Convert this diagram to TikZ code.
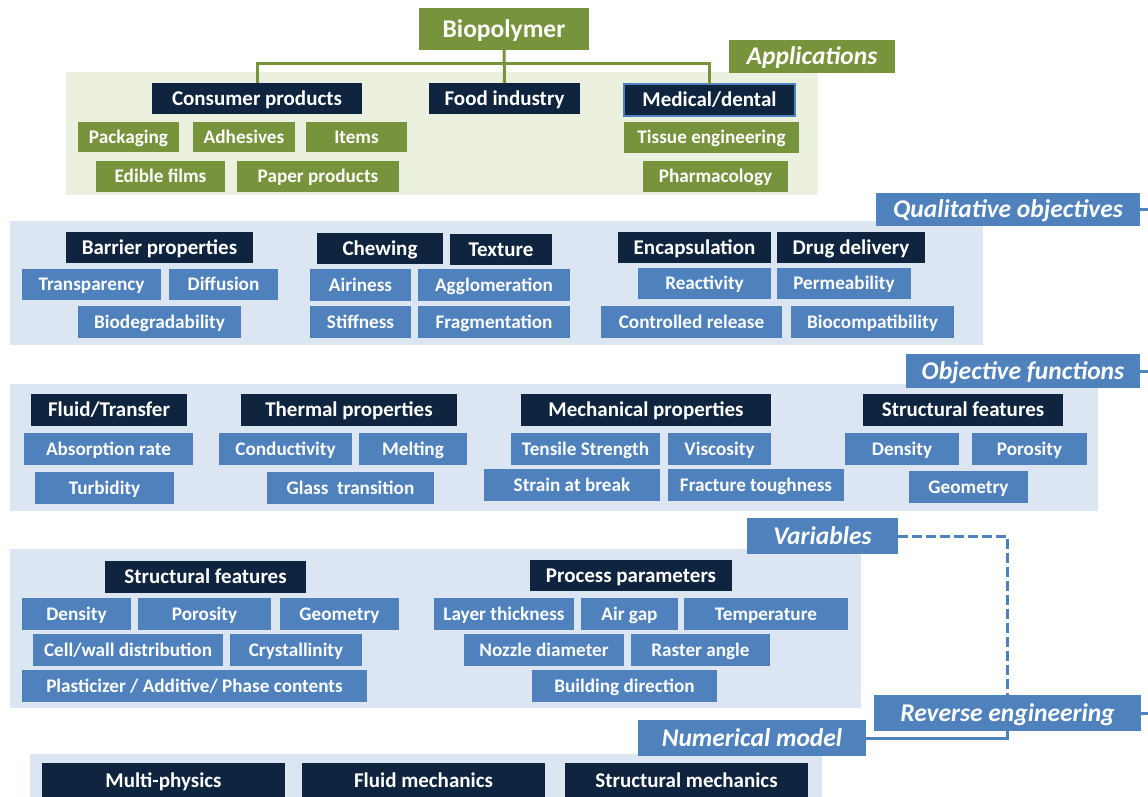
\documentclass[tikz,border=0pt]{standalone}
\usepackage{fontspec}
\setmainfont{Carlito}
\usepackage{tikz}
\usepackage{xcolor}
\usetikzlibrary{arrows.meta,calc}
\definecolor{navy}{HTML}{0F243E}
\definecolor{itemblue}{HTML}{4F81BD}
\definecolor{olive}{HTML}{77933C}
\definecolor{bgblue}{HTML}{DCE6F2}
\definecolor{bggreen}{HTML}{EBF1DE}
\tikzset{
    anybox/.style={rectangle,inner sep=0pt,outer sep=0pt,text=white,minimum height=31pt,align=center},
    hdrbox/.style={anybox,fill=navy,font=\fontsize{21}{24}\selectfont\bfseries,text height=14pt,text depth=0.5pt},
    itembox/.style={anybox,fill=itemblue,font=\fontsize{19.2}{22}\selectfont\bfseries,text height=13pt,text depth=0.5pt},
    greenbox/.style={itembox,fill=olive},
    tagbox/.style={anybox,fill=itemblue,minimum height=34pt,font=\fontsize{25.5}{29}\selectfont\bfseries\itshape,
        text height=17pt,text depth=0.5pt},
    greentag/.style={tagbox,fill=olive},
    greenline/.style={draw=olive,line width=3pt},
    blueline/.style={draw=itemblue,line width=3pt},
    dashline/.style={blueline,dash pattern=on 10pt off 4pt}
}
\begin{document}
\begin{tikzpicture}[line cap=butt,line join=miter,x=1pt,y=-1pt]
                \useasboundingbox (0,0) rectangle (1148,797);
                \fill [bggreen] (66,72) rectangle (818,195);
                \fill [bgblue] (10,221) rectangle (983,345);
                \fill [bgblue] (10,384) rectangle (1098,511);
                \fill [bgblue] (10,549) rectangle (861,708);
                \fill [bgblue] (30,754) rectangle (822,800);
                % applications
                \node[greentag,minimum width=170pt,minimum height=42pt,font=\fontsize{25.5}{30}\selectfont\bfseries] (biopol) at (504,29) {Biopolymer};
                \node[greentag,minimum width=166pt,minimum height=33pt] (applic) at (812,56.5) {Applications};
                \node[hdrbox,minimum width=210pt] (consumer) at (257,98.5) {Consumer products};
                \node[hdrbox,minimum width=151pt] (food) at (504.5,98.5) {Food industry};
                \node[hdrbox,minimum width=171pt,minimum height=32pt,draw=itemblue,line width=1.2pt] (medical) at (709.5,100) {Medical/dental};
                \node[greenbox,minimum width=101pt,minimum height=30pt] (packag) at (128.5,137) {Packaging};
                \node[greenbox,minimum width=102pt,minimum height=30pt] (adhes) at (244,137) {Adhesives};
                \node[greenbox,minimum width=101pt,minimum height=30pt] (items) at (356.5,137) {Items};
                \node[greenbox,minimum width=129pt] (edible) at (160.5,176.5) {Edible films};
                \node[greenbox,minimum width=162pt] (paper) at (318,176.5) {Paper products};
                \node[greenbox,minimum width=175pt] (tissue) at (711.5,137.5) {Tissue engineering};
                \node[greenbox,minimum width=145pt] (pharma) at (715.5,176.5) {Pharmacology};
                \coordinate (junc) at (504,64);
                \draw[greenline] (consumer.north) |- (junc) -| (medical.north);
                \draw[greenline] (biopol.south) -- (food.north);
                % qualitative objectives
                \node[tagbox,minimum width=264pt,minimum height=33pt] (quali) at (1008,209.5) {Qualitative objectives};
                \node[hdrbox,minimum width=187pt] (barrier) at (159.5,247.5) {Barrier properties};
                \node[itembox,minimum width=139pt] (transp) at (91.5,284.5) {Transparency};
                \node[itembox,minimum width=109pt] (diffus) at (223.5,284.5) {Diffusion};
                \node[itembox,minimum width=163pt,minimum height=32pt] (biodeg) at (159.5,322) {Biodegradability};
                \node[hdrbox,minimum width=126pt] (chewing) at (380,248.5) {Chewing};
                \node[hdrbox,minimum width=102pt] (texture) at (501,249.5) {Texture};
                \node[itembox,minimum width=101pt,minimum height=32pt] (airi) at (360.5,285) {Airiness};
                \node[itembox,minimum width=152pt,minimum height=32pt] (agglom) at (494,285) {Agglomeration};
                \node[itembox,minimum width=101pt,minimum height=32pt] (stiff) at (360.5,322) {Stiffness};
                \node[itembox,minimum width=152pt,minimum height=32pt] (fragm) at (494,322) {Fragmentation};
                \node[hdrbox,minimum width=153pt] (encaps) at (694.5,247.5) {Encapsulation};
                \node[hdrbox,minimum width=148pt] (drug) at (851,247.5) {Drug delivery};
                \node[itembox,minimum width=133pt] (react) at (704.5,283.5) {Reactivity};
                \node[itembox,minimum width=134pt] (perme) at (844,283.5) {Permeability};
                \node[itembox,minimum width=181pt,minimum height=32pt] (ctrlrel) at (691.5,322) {Controlled release};
                \node[itembox,minimum width=163pt,minimum height=32pt] (biocomp) at (872.5,322) {Biocompatibility};
                \coordinate (qualiend) at (1148,209.5);
                \draw[blueline] (quali.east) -- (qualiend);
                % objective functions
                \node[tagbox,minimum width=234pt] (objfun) at (1023,371) {Objective functions};
                \node[hdrbox,minimum width=156pt,minimum height=32pt] (fluid) at (109,410) {Fluid/Transfer};
                \node[itembox,minimum width=169pt,minimum height=32pt] (absorp) at (108.5,449) {Absorption rate};
                \node[itembox,minimum width=139pt,minimum height=32pt] (turbid) at (104.5,488) {Turbidity};
                \node[hdrbox,minimum width=216pt,minimum height=32pt] (thermal) at (349,410) {Thermal properties};
                \node[itembox,minimum width=133pt,minimum height=32pt] (conduct) at (285.5,449) {Conductivity};
                \node[itembox,minimum width=108pt,minimum height=32pt] (melt) at (413,449) {Melting};
                \node[itembox,minimum width=167pt,minimum height=32pt] (glass) at (350.5,488) {Glass\ \ transition};
                \node[hdrbox,minimum width=250pt,minimum height=32pt] (mechan) at (646,410) {Mechanical properties};
                \node[itembox,minimum width=149pt,minimum height=32pt] (tensile) at (585.5,449) {Tensile Strength};
                \node[itembox,minimum width=103pt,minimum height=32pt] (visco) at (719.5,449) {Viscosity};
                \node[itembox,minimum width=176pt,minimum height=32pt] (strain) at (572,485) {Strain at break};
                \node[itembox,minimum width=176pt,minimum height=32pt] (fract) at (756,485) {Fracture toughness};
                \node[hdrbox,minimum width=200pt,minimum height=32pt] (structA) at (963,410) {Structural features};
                \node[itembox,minimum width=114pt,minimum height=32pt] (densA) at (902,449) {Density};
                \node[itembox,minimum width=115pt,minimum height=32pt] (poroA) at (1029.5,449) {Porosity};
                \node[itembox,minimum width=119pt,minimum height=32pt] (geomA) at (968.5,487) {Geometry};
                \coordinate (objend) at (1148,371);
                \draw[blueline] (objfun.east) -- (objend);
                % variables
                \node[tagbox,minimum width=151pt,minimum height=36pt] (vars) at (822.5,536) {Variables};
                \node[hdrbox,minimum width=201pt,minimum height=32pt] (structB) at (205.5,577) {Structural features};
                \node[itembox,minimum width=109pt,minimum height=32pt] (densB) at (76.5,614) {Density};
                \node[itembox,minimum width=133pt,minimum height=32pt] (poroB) at (204.5,614) {Porosity};
                \node[itembox,minimum width=119pt,minimum height=32pt] (geomB) at (339.5,614) {Geometry};
                \node[itembox,minimum width=190pt,minimum height=32pt] (cellw) at (128,650) {Cell/wall distribution};
                \node[itembox,minimum width=132pt,minimum height=32pt] (cryst) at (296,650) {Crystallinity};
                \node[itembox,minimum width=345pt,minimum height=32pt] (plastic) at (194.5,686) {Plasticizer / Additive/ Phase contents};
                \node[hdrbox,minimum width=202pt] (process) at (631,575.5) {Process parameters};
                \node[itembox,minimum width=140pt,minimum height=32pt] (layer) at (504,614) {Layer thickness};
                \node[itembox,minimum width=97pt,minimum height=32pt] (airgap) at (629.5,614) {Air gap};
                \node[itembox,minimum width=164pt,minimum height=32pt] (temper) at (766,614) {Temperature};
                \node[itembox,minimum width=160pt,minimum height=32pt] (nozzle) at (544,650) {Nozzle diameter};
                \node[itembox,minimum width=139pt,minimum height=32pt] (raster) at (700.5,650) {Raster angle};
                \node[itembox,minimum width=185pt,minimum height=32pt] (build) at (624.5,686) {Building direction};
                % reverse engineering and numerical model
                \node[tagbox,minimum width=267pt,minimum height=36pt] (reveng) at (1007.5,713) {Reverse engineering};
                \node[tagbox,minimum width=228pt,minimum height=36pt] (nummod) at (752,738) {Numerical model};
                \coordinate (revend) at (1148,713);
                \draw[blueline] (reveng.east) -- (revend);
                \draw[dashline] (vars.east) -| (reveng.north);
                \draw[blueline] (nummod.east) -| (reveng.south);
                \node[hdrbox,minimum width=243pt,minimum height=36pt] (multi) at (163.5,781) {Multi-physics};
                \node[hdrbox,minimum width=243pt,minimum height=36pt] (fluidm) at (423.5,781) {Fluid mechanics};
                \node[hdrbox,minimum width=243pt,minimum height=36pt] (structm) at (686.5,781) {Structural mechanics};
\end{tikzpicture}
\end{document}
